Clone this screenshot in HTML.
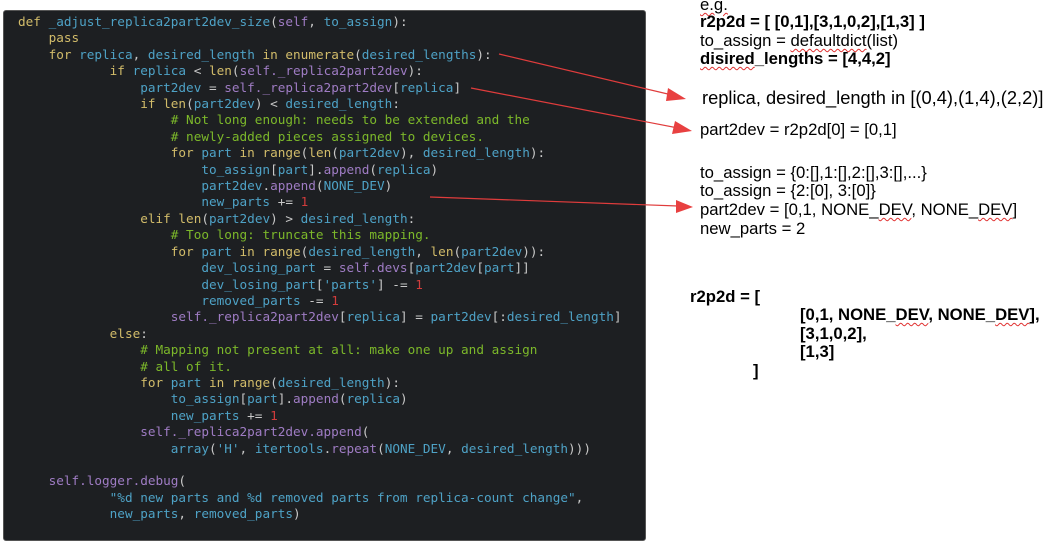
<!DOCTYPE html>
<html><head><meta charset="utf-8"><style>
body{margin:0;width:1052px;height:544px;background:#fff;position:relative;overflow:hidden;font-family:"Liberation Sans",sans-serif;}
#panel{position:absolute;left:3px;top:10px;width:643px;height:531px;background:#1d1f22;border:1px solid #555;border-radius:3px;box-sizing:border-box;}
pre{position:absolute;left:18px;top:14px;margin:0;font-family:"DejaVu Sans Mono",monospace;font-size:12.7px;line-height:16.4px;color:#c8c8c8;}
.k{color:#d2bc6a}.v{color:#4ea2c6}.p{color:#9f7cc4}.c{color:#7cb82a}.n{color:#d23c3c}
.t{position:absolute;color:#000;font-size:16.7px;white-space:nowrap;line-height:18px;}
.b{font-weight:bold}
.sq{text-decoration:underline wavy #e03030;text-decoration-thickness:1px;text-underline-offset:2px}
</style></head><body>
<div id="panel"></div>
<pre><span class="k">def</span> <span class="v">_adjust_replica2part2dev_size</span>(<span class="p">self</span>, <span class="v">to_assign</span>):
    <span class="k">pass</span>
    <span class="k">for</span> <span class="v">replica</span>, <span class="v">desired_length</span> <span class="k">in</span> <span class="k">enumerate</span>(<span class="v">desired_lengths</span>):
            <span class="k">if</span> <span class="v">replica</span> &lt; <span class="k">len</span>(<span class="p">self._replica2part2dev</span>):
                <span class="v">part2dev</span> = <span class="p">self._replica2part2dev</span>[<span class="v">replica</span>]
                <span class="k">if</span> <span class="k">len</span>(<span class="v">part2dev</span>) &lt; <span class="v">desired_length</span>:
                    <span class="c"># Not long enough: needs to be extended and the</span>
                    <span class="c"># newly-added pieces assigned to devices.</span>
                    <span class="k">for</span> <span class="v">part</span> <span class="k">in</span> <span class="k">range</span>(<span class="k">len</span>(<span class="v">part2dev</span>), <span class="v">desired_length</span>):
                        <span class="v">to_assign</span>[<span class="v">part</span>].<span class="p">append</span>(<span class="v">replica</span>)
                        <span class="v">part2dev</span>.<span class="p">append</span>(<span class="v">NONE_DEV</span>)
                        <span class="v">new_parts</span> += <span class="n">1</span>
                <span class="k">elif</span> <span class="k">len</span>(<span class="v">part2dev</span>) &gt; <span class="v">desired_length</span>:
                    <span class="c"># Too long: truncate this mapping.</span>
                    <span class="k">for</span> <span class="v">part</span> <span class="k">in</span> <span class="k">range</span>(<span class="v">desired_length</span>, <span class="k">len</span>(<span class="v">part2dev</span>)):
                        <span class="v">dev_losing_part</span> = <span class="p">self.devs</span>[<span class="v">part2dev</span>[<span class="v">part</span>]]
                        <span class="v">dev_losing_part</span>[<span class="v">'parts'</span>] -= <span class="n">1</span>
                        <span class="v">removed_parts</span> -= <span class="n">1</span>
                    <span class="p">self._replica2part2dev</span>[<span class="v">replica</span>] = <span class="v">part2dev</span>[:<span class="v">desired_length</span>]
            <span class="k">else</span>:
                <span class="c"># Mapping not present at all: make one up and assign</span>
                <span class="c"># all of it.</span>
                <span class="k">for</span> <span class="v">part</span> <span class="k">in</span> <span class="k">range</span>(<span class="v">desired_length</span>):
                    <span class="v">to_assign</span>[<span class="v">part</span>].<span class="p">append</span>(<span class="v">replica</span>)
                    <span class="v">new_parts</span> += <span class="n">1</span>
                <span class="p">self._replica2part2dev.append</span>(
                    <span class="v">array</span>(<span class="v">'H'</span>, <span class="v">itertools</span>.<span class="p">repeat</span>(<span class="v">NONE_DEV</span>, <span class="v">desired_length</span>)))

    <span class="p">self.logger.debug</span>(
            <span class="v">"%d new parts and %d removed parts from replica-count change"</span>,
            <span class="v">new_parts</span>, <span class="v">removed_parts</span>)</pre>

<svg width="1052" height="544" style="position:absolute;left:0;top:0">
<g stroke="#e03c3c" stroke-width="1.2" fill="#e84040">
<line x1="499" y1="54" x2="672" y2="95"/>
<polygon points="686,99 668,88 666,101" stroke="none"/>
<line x1="471" y1="88" x2="678" y2="128"/>
<polygon points="692,131 675,121 672,134" stroke="none"/>
<line x1="430" y1="197" x2="678" y2="206"/>
<polygon points="693,207 676,200 676,213" stroke="none"/>
</g>
</svg>

<div class="t" style="left:700px;top:-4px"><span class="sq">e.g.</span></div>
<div class="t b" style="left:700px;top:13px">r2p2d = [ [0,1],[3,1,0,2],[1,3] ]</div>
<div class="t" style="left:700px;top:32px">to_assign = <span class="sq">defaultdict</span>(list)</div>
<div class="t b" style="left:700px;top:50px"><span class="sq">disired</span>_lengths = [4,4,2]</div>
<div class="t" style="left:702px;top:88px;font-size:18.3px;line-height:20px">replica, desired_length in [(0,4),(1,4),(2,2)]</div>
<div class="t" style="left:700px;top:121px">part2dev = r2p2d[0] = [0,1]</div>
<div class="t" style="left:700px;top:164px">to_assign = {0:[],1:[],2:[],3:[],...}</div>
<div class="t" style="left:700px;top:182px">to_assign = {2:[0], 3:[0]}</div>
<div class="t" style="left:700px;top:201px">part2dev = [0,1, NONE_<span class="sq">DEV</span>, NONE_<span class="sq">DEV</span>]</div>
<div class="t" style="left:700px;top:220px">new_parts = 2</div>
<div class="t b" style="left:690px;top:288px">r2p2d = [</div>
<div class="t b" style="left:800px;top:306px">[0,1, NONE_<span class="sq">DEV</span>, NONE_<span class="sq">DEV</span>],</div>
<div class="t b" style="left:800px;top:325px">[3,1,0,2],</div>
<div class="t b" style="left:800px;top:343px">[1,3]</div>
<div class="t b" style="left:753px;top:362px">]</div>
</body></html>
